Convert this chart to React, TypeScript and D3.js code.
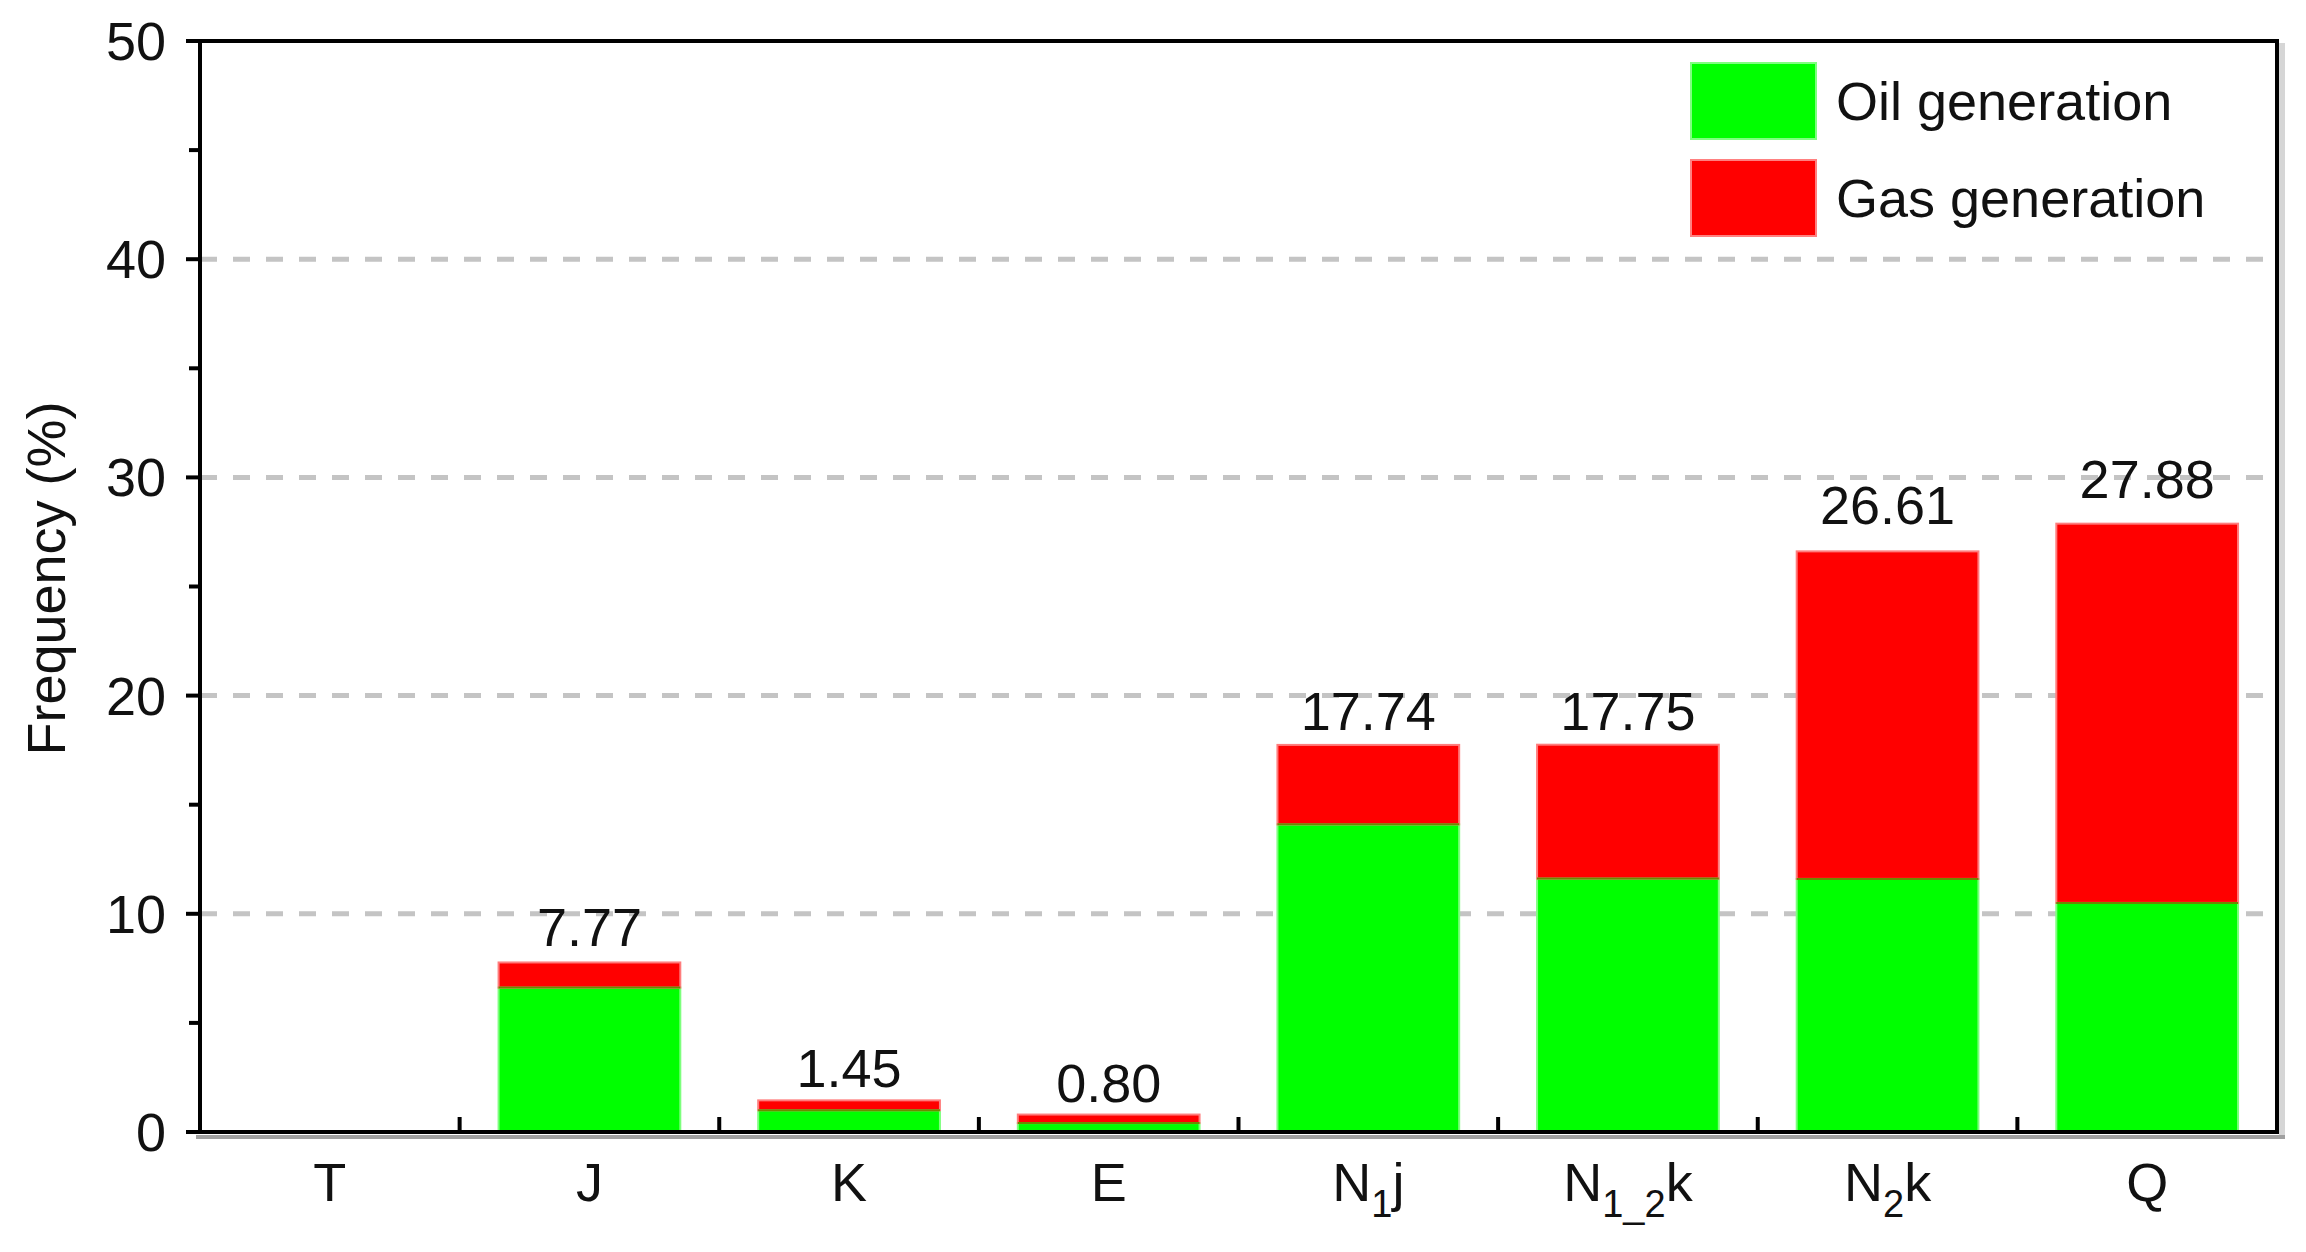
import React from "react";
import * as d3 from "d3";

const categories = ["T", "J", "K", "E", "N1j", "N1_2k", "N2k", "Q"];
const oilValues = [0, 6.62, 1.0, 0.41, 14.1, 11.62, 11.6, 10.5];
const gasValues = [0, 1.15, 0.45, 0.39, 3.64, 6.13, 15.01, 17.38];
const totalValues = [0, 7.77, 1.45, 0.8, 17.74, 17.75, 26.61, 27.88];
const totalLabels = ["", "7.77", "1.45", "0.80", "17.74", "17.75", "26.61", "27.88"];
const yTicks = [0, 10, 20, 30, 40, 50];
const yMinorTicks = [5, 15, 25, 35, 45];
const gridTicks = [10, 20, 30, 40];
const seriesNames = ["Oil generation", "Gas generation"];

const W = 2306;
const H = 1252;
const M = { left: 200, right: 2277, top: 41, bottom: 1132 };
const OIL = "#00ff00";
const GAS = "#ff0000";
const FONT = "'Liberation Sans', Arial, sans-serif";
const labelLift = [0, 16, 13, 13, 15, 15, 27, 26];

function CatLabel({ name }: { name: string }) {
  const sub = { fontSize: 38 } as const;
  if (name === "N1j")
    return (
      <>
        N<tspan dy={16} style={sub}>1</tspan><tspan dy={-16}>j</tspan>
      </>
    );
  if (name === "N1_2k")
    return (
      <>
        N<tspan dy={16} style={sub}>1_2</tspan><tspan dy={-16}>k</tspan>
      </>
    );
  if (name === "N2k")
    return (
      <>
        N<tspan dy={16} style={sub}>2</tspan><tspan dy={-16}>k</tspan>
      </>
    );
  return <>{name}</>;
}

export default function App() {
  const x = d3.scaleBand<string>().domain(categories).range([M.left, M.right]).paddingInner(0.3).paddingOuter(0.15);
  const xb = d3.scaleBand<string>().domain(categories).range([M.left, M.right]);
  const y = d3.scaleLinear().domain([0, 50]).range([M.bottom, M.top]);
  const stack = categories.map((c, i) => ({ c, oil: oilValues[i], gas: gasValues[i], total: totalValues[i], label: totalLabels[i], i }));
  const bw = x.bandwidth();

  return (
    <svg width={W} height={H} style={{ position: "absolute", left: 0, top: 0, background: "#fff" }} fontFamily={FONT}>
      <rect x={0} y={0} width={W} height={H} fill="#fff" />
      {/* grid */}
      {gridTicks.map((t) => (
        <line key={t} x1={M.left} x2={M.right} y1={y(t)} y2={y(t)} stroke="#c4c4c4" strokeWidth={5} strokeDasharray="17 16" />
      ))}
      {/* bars */}
      {stack.map((d) =>
        d.total > 0 ? (
          <g key={d.c}>
            <rect x={x(d.c)} width={bw} y={y(d.oil)} height={y(0) - y(d.oil)} fill={OIL} stroke="#7dff7d" strokeWidth={2} />
            <rect x={x(d.c)} width={bw} y={y(d.oil + d.gas)} height={y(d.oil) - y(d.oil + d.gas)} fill={GAS} stroke="#ff7d7d" strokeWidth={2} />
            <line x1={x(d.c)} x2={(x(d.c) as number) + bw} y1={y(d.oil)} y2={y(d.oil)} stroke="#6a8a00" strokeWidth={2} />
          </g>
        ) : null
      )}
      {/* value labels */}
      {stack.map((d) =>
        d.label ? (
          <text key={"l" + d.c} x={(x(d.c) as number) + bw / 2} y={y(d.total) - labelLift[d.i]} textAnchor="middle" fontSize={54} fill="#111">
            {d.label}
          </text>
        ) : null
      )}
      {/* frame shadow */}
      <line x1={M.right + 5} x2={M.right + 5} y1={M.top + 2} y2={M.bottom + 5} stroke="#d6d6d6" strokeWidth={6} />
      <line x1={M.left - 4} x2={M.right + 8} y1={M.bottom + 5} y2={M.bottom + 5} stroke="#a0a0a0" strokeWidth={4} />
      {/* frame */}
      <rect x={M.left} y={M.top} width={M.right - M.left} height={M.bottom - M.top} fill="none" stroke="#000" strokeWidth={4} />
      {/* y ticks */}
      {yTicks.map((t) => (
        <g key={"yt" + t}>
          <line x1={M.left - 14} x2={M.left} y1={y(t)} y2={y(t)} stroke="#000" strokeWidth={4} />
          <text x={166} y={y(t)} dy="0.35em" textAnchor="end" fontSize={54} fill="#111">
            {t}
          </text>
        </g>
      ))}
      {yMinorTicks.map((t) => (
        <line key={"ym" + t} x1={M.left - 11} x2={M.left} y1={y(t)} y2={y(t)} stroke="#000" strokeWidth={4} />
      ))}
      {/* x ticks at category boundaries */}
      {categories.slice(1).map((c) => (
        <line key={"xt" + c} x1={xb(c)} x2={xb(c)} y1={M.bottom} y2={M.bottom - 15} stroke="#000" strokeWidth={4} />
      ))}
      {/* x labels */}
      {categories.map((c) => (
        <text key={"xl" + c} x={(xb(c) as number) + xb.bandwidth() / 2} y={1201} textAnchor="middle" fontSize={54} fill="#111">
          <CatLabel name={c} />
        </text>
      ))}
      {/* y title */}
      <text transform={`translate(65, ${(M.top + M.bottom) / 2 - 8}) rotate(-90)`} textAnchor="middle" fontSize={54} fill="#111">
        Frequency (%)
      </text>
      {/* legend */}
      {seriesNames.map((n, i) => (
        <g key={n} transform={`translate(1691, ${63 + i * 97})`}>
          <rect x={0} y={0} width={125} height={76} fill={i === 0 ? OIL : GAS} stroke={i === 0 ? "#80ff80" : "#ff8080"} strokeWidth={2} />
          <text x={145} y={38} dy="0.35em" fontSize={54} fill="#111">
            {n}
          </text>
        </g>
      ))}
    </svg>
  );
}
